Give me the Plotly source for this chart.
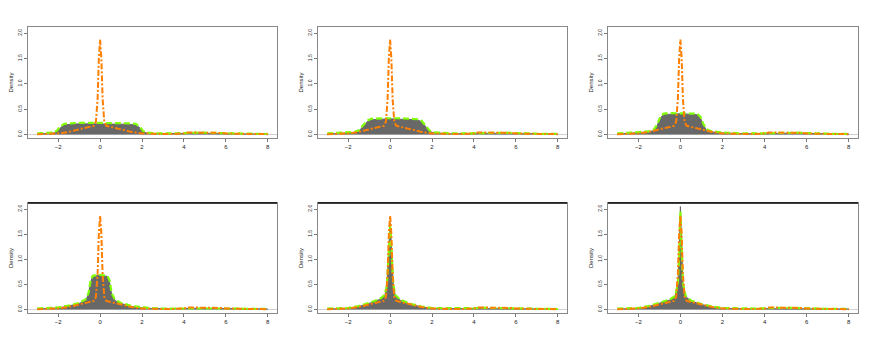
import plotly.graph_objects as go

# ── data ─────────────────────────────────────────────────────────────────────
tail_x = [2.5, 3, 3.5, 4, 4.3, 4.6, 5, 5.5, 5.8, 6, 6.5, 7, 7.5, 8]
tail_gray = [0.02, 0.015, 0.015, 0.02, 0.025, 0.025, 0.025, 0.025, 0.02, 0.02, 0.015, 0.01, 0.01, 0.01]
tail_green = [0.025, 0.02, 0.02, 0.025, 0.035, 0.035, 0.035, 0.035, 0.03, 0.025, 0.02, 0.015, 0.01, 0.01]

# true density (orange) - same in every panel
true_x = [-3, -2.5, -2, -1.5, -1, -0.6, -0.3, -0.2, -0.12, -0.06, 0, 0.06, 0.12, 0.2,
          0.3, 0.6, 1, 1.5, 2, 2.5, 3, 3.5, 4, 4.2, 4.5, 5, 5.5, 5.8, 6, 6.5, 7, 7.5, 8]
true_y = [0.005, 0.01, 0.02, 0.05, 0.1, 0.14, 0.17, 0.25, 0.7, 1.5, 1.87, 1.5, 0.7, 0.25,
          0.17, 0.14, 0.1, 0.05, 0.02, 0.01, 0.01, 0.01, 0.02, 0.04, 0.04, 0.04, 0.04, 0.03,
          0.02, 0.01, 0.01, 0.01, 0.005]

x1 = [-3, -2.6, -2.2, -2.05, -1.9, -1.7, -1.4, -1, -0.5, 0, 0.5, 1, 1.4, 1.7, 1.9, 2.05, 2.2]
gray1 = [0.01, 0.02, 0.03, 0.06, 0.13, 0.19, 0.2, 0.21, 0.21, 0.21, 0.21, 0.21, 0.2, 0.19, 0.13, 0.06, 0.03]
green1 = [0.02, 0.03, 0.04, 0.08, 0.16, 0.21, 0.22, 0.23, 0.23, 0.23, 0.23, 0.23, 0.22, 0.21, 0.15, 0.07, 0.04]

x2 = [-3, -2.5, -2, -1.7, -1.5, -1.3, -1.1, -0.9, -0.5, 0, 0.5, 1, 1.3, 1.5, 1.7, 1.9, 2.1]
gray2 = [0.01, 0.02, 0.03, 0.04, 0.06, 0.15, 0.25, 0.29, 0.3, 0.31, 0.3, 0.3, 0.29, 0.25, 0.15, 0.06, 0.03]
green2 = [0.02, 0.03, 0.04, 0.05, 0.08, 0.18, 0.27, 0.31, 0.32, 0.32, 0.32, 0.31, 0.3, 0.27, 0.17, 0.07, 0.04]

x3 = [-3, -2.5, -2, -1.5, -1.25, -1.1, -0.95, -0.8, -0.4, 0, 0.4, 0.8, 0.95, 1.1, 1.25, 1.5, 2]
gray3 = [0.01, 0.02, 0.03, 0.05, 0.08, 0.18, 0.33, 0.39, 0.4, 0.41, 0.4, 0.39, 0.33, 0.18, 0.08, 0.05, 0.03]
green3 = [0.02, 0.03, 0.04, 0.06, 0.1, 0.2, 0.35, 0.41, 0.42, 0.42, 0.42, 0.41, 0.35, 0.2, 0.1, 0.06, 0.04]

x4 = [-3, -2.5, -2, -1.5, -1, -0.7, -0.55, -0.45, -0.35, 0, 0.35, 0.45, 0.55, 0.7, 1, 1.5, 2]
gray4 = [0.01, 0.015, 0.03, 0.07, 0.12, 0.18, 0.3, 0.55, 0.66, 0.68, 0.66, 0.55, 0.3, 0.18, 0.12, 0.06, 0.03]
green4 = [0.02, 0.025, 0.04, 0.08, 0.13, 0.2, 0.33, 0.58, 0.67, 0.69, 0.67, 0.58, 0.33, 0.2, 0.13, 0.07, 0.04]

x5 = [-3, -2.5, -2, -1.5, -1, -0.5, -0.25, -0.15, -0.08, -0.03, 0, 0.03, 0.08, 0.15, 0.25, 0.5, 1, 1.5, 2]
gray5 = [0.01, 0.01, 0.02, 0.06, 0.12, 0.2, 0.28, 0.5, 1.0, 1.55, 1.72, 1.55, 1.0, 0.5, 0.28, 0.18, 0.1, 0.05, 0.02]
green5 = [0.02, 0.02, 0.03, 0.07, 0.13, 0.21, 0.29, 0.5, 0.98, 1.5, 1.66, 1.5, 0.98, 0.5, 0.29, 0.19, 0.11, 0.06, 0.03]

x6 = [-3, -2.5, -2, -1.5, -1, -0.5, -0.25, -0.12, -0.06, -0.02, 0, 0.02, 0.06, 0.12, 0.25, 0.5, 1, 1.5, 2]
gray6 = [0.01, 0.01, 0.02, 0.06, 0.12, 0.19, 0.26, 0.5, 1.05, 1.8, 2.05, 1.8, 1.05, 0.5, 0.26, 0.17, 0.1, 0.05, 0.02]
green6 = [0.02, 0.02, 0.03, 0.07, 0.13, 0.2, 0.27, 0.52, 1.05, 1.75, 1.95, 1.75, 1.05, 0.52, 0.27, 0.18, 0.11, 0.06, 0.03]

panels = [(x1, gray1, green1), (x2, gray2, green2), (x3, gray3, green3),
          (x4, gray4, green4), (x5, gray5, green5), (x6, gray6, green6)]

W, H = 872, 349
OFF = 8  # page body margin
col_px = [(28, 277), (318, 567), (608, 858)]
row_px = [(27, 138), (203, 313)]

GRAY = "#686868"
GREEN = "#7fff00"
ORANGE = "#ff7f00"
FONT = "Liberation Sans"

fig = go.Figure()
layout = {}
for i, (px, gy, gr) in enumerate(panels):
    r, c = divmod(i, 3)
    n = i + 1
    xa = "x" if n == 1 else f"x{n}"
    ya = "y" if n == 1 else f"y{n}"
    xs = px + tail_x
    fig.add_trace(go.Scatter(x=xs, y=gy + tail_gray, mode="lines", fill="tozeroy",
                             fillcolor=GRAY, line=dict(color=GRAY, width=1),
                             xaxis=xa, yaxis=ya, showlegend=False))
    fig.add_trace(go.Scatter(x=xs, y=gr + tail_green, mode="lines",
                             line=dict(color=GREEN, width=2.2, dash="6px,3px"),
                             xaxis=xa, yaxis=ya, showlegend=False))
    fig.add_trace(go.Scatter(x=true_x, y=true_y, mode="lines",
                             line=dict(color=ORANGE, width=2, dash="6px,2px,2px,2px"),
                             xaxis=xa, yaxis=ya, showlegend=False))

    x0, x1p = col_px[c]
    y0, y1p = row_px[r]
    sfx = "" if n == 1 else str(n)
    layout[f"xaxis{sfx}"] = dict(
        domain=[(x0 - OFF) / W, (x1p - OFF) / W], anchor=ya, range=[-3.44, 8.44],
        automargin=False,
        tickvals=[-2, 0, 2, 4, 6, 8], ticks="outside", ticklen=3, tickcolor="#777",
        showgrid=False, zeroline=False, showline=True, linecolor="#888", linewidth=1,
        mirror=True, tickfont=dict(size=6, family=FONT, color="#222"),
    )
    layout[f"yaxis{sfx}"] = dict(
        domain=[1 - (y1p - OFF) / H, 1 - (y0 - OFF) / H], anchor=xa, range=[-0.07, 2.12],
        automargin=False,
        tickvals=[0, 0.5, 1, 1.5, 2], ticktext=["0.0", "0.5", "1.0", "1.5", "2.0"],
        tickangle=-90, ticks="outside", ticklen=3, tickcolor="#777",
        showgrid=False, zeroline=True, zerolinecolor="#d0d0d0", zerolinewidth=1,
        showline=True, linecolor="#888", linewidth=1, mirror=True,
        tickfont=dict(size=5, family=FONT, color="#222"),
        title=dict(text="Density", font=dict(size=6, family=FONT, color="#222"), standoff=2),
    )

# black top edge on the lower-row boxes
shapes = []
for c in range(3):
    x0, x1p = col_px[c]
    yt = 1 - (203 - OFF) / H
    shapes.append(dict(type="line", xref="paper", yref="paper",
                       x0=(x0 - OFF) / W, x1=(x1p - OFF) / W, y0=yt, y1=yt,
                       line=dict(color="black", width=1.5)))

fig.update_layout(
    width=W, height=H, margin=dict(l=0, r=0, t=0, b=0),
    paper_bgcolor="white", plot_bgcolor="white", shapes=shapes, **layout,
)

fig.write_html("out.html")
